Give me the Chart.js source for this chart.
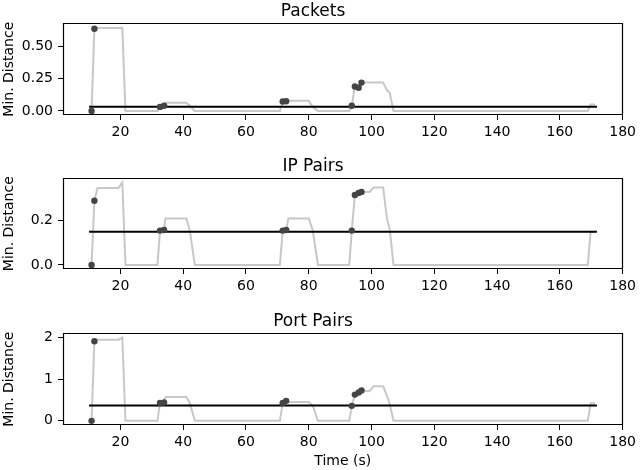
<!DOCTYPE html>
<html>
<head>
<meta charset="utf-8">
<script src="https://cdn.jsdelivr.net/npm/chart.js@4/dist/chart.umd.min.js"></script>
<style>
  html, body { margin: 0; padding: 0; background: #fff; }
  #wrap { position: relative; width: 640px; height: 470px; overflow: hidden; }
  canvas { position: absolute; left: 0; }
</style>
</head>
<body>
<div id="wrap">
  <canvas id="packets" width="640" height="150" style="top:0px;width:640px;height:150px"></canvas>
  <canvas id="ipPairs" width="640" height="149" style="top:155px;width:640px;height:149px"></canvas>
  <canvas id="portPairs" width="640" height="160" style="top:310px;width:640px;height:160px"></canvas>
</div>
<script>
// --- data ---
const TIME = [10, 10.8, 11.7, 12.7, 19.4, 20.6, 21.6,
  31.8, 32.6, 33.9, 34.3, 41.0, 42.1, 43.7,
  70.8, 71.7, 72.8, 73.5, 80.0, 81.3, 82.9,
  92.9, 93.7, 94.7, 95.9, 96.8, 99.3, 100.7, 103.7, 104.9, 105.8, 107.0,
  168.9, 169.8, 171.2];

const PACKETS = [0, 0, 0.638, 0.645, 0.645, 0.645, 0,
  0, 0.031, 0.040, 0.064, 0.064, 0.040, 0,
  0, 0.073, 0.075, 0.078, 0.078, 0.030, 0,
  0, 0.040, 0.190, 0.180, 0.220, 0.220, 0.220, 0.220, 0.160, 0.140, 0,
  0, 0.050, 0.050];

const IP_PAIRS = [0, 0, 0.29, 0.348, 0.348, 0.372, 0,
  0, 0.155, 0.158, 0.21, 0.21, 0.155, 0,
  0, 0.155, 0.158, 0.21, 0.21, 0.155, 0,
  0, 0.155, 0.316, 0.325, 0.33, 0.33, 0.35, 0.35, 0.21, 0.16, 0,
  0, 0.15, 0.15];

const PORT_PAIRS = [0, 0, 1.91, 1.95, 1.95, 2.0, 0,
  0, 0.43, 0.44, 0.57, 0.57, 0.43, 0,
  0, 0.43, 0.48, 0.45, 0.45, 0.36, 0,
  0, 0.36, 0.63, 0.68, 0.73, 0.71, 0.83, 0.83, 0.6, 0.4, 0,
  0, 0.42, 0.42];

const DOT_TIME = [10.8, 11.7, 32.6, 33.9, 71.7, 72.8, 93.7, 94.7, 95.9, 96.8];
const PACKETS_DOTS = [0, 0.638, 0.031, 0.040, 0.073, 0.075, 0.040, 0.190, 0.180, 0.220];
const IP_PAIRS_DOTS = [0, 0.29, 0.155, 0.158, 0.155, 0.158, 0.155, 0.316, 0.325, 0.33];
const PORT_PAIRS_DOTS = [0, 1.91, 0.43, 0.44, 0.43, 0.48, 0.36, 0.63, 0.68, 0.73];

const THRESH_TIME = [10, 171.8];
const PACKETS_THRESH = 0.033;
const IP_PAIRS_THRESH = 0.15;
const PORT_PAIRS_THRESH = 0.37;

const X_TICKS = [20, 40, 60, 80, 100, 120, 140, 160, 180];
const PACKETS_TICKS = [0, 0.25, 0.5];
const PACKETS_LABELS = ["0.00", "0.25", "0.50"];
const IP_PAIRS_TICKS = [0, 0.2];
const IP_PAIRS_LABELS = ["0.0", "0.2"];
const PORT_PAIRS_TICKS = [0, 1, 2];
const PORT_PAIRS_LABELS = ["0", "1", "2"];

const FONT = "'DejaVu Sans', sans-serif";

// box around the plot area (matplotlib spines)
const framePlugin = {
  id: "plotFrame",
  afterDraw(chart) {
    const ctx = chart.ctx;
    const a = chart.chartArea;
    const l = Math.round(a.left) + 0.5, t = Math.round(a.top) + 0.5;
    const r = Math.round(a.right) - 0.5, b = Math.round(a.bottom) - 0.5;
    ctx.save();
    ctx.setLineDash([]);
    ctx.globalAlpha = 1;
    ctx.strokeStyle = "#000000";
    ctx.lineWidth = 1.2;
    ctx.beginPath();
    ctx.moveTo(l, t);
    ctx.lineTo(r, t);
    ctx.lineTo(r, b);
    ctx.lineTo(l, b);
    ctx.closePath();
    ctx.stroke();
    ctx.restore();
  }
};

const pts = (xs, ys) => xs.map((x, i) => ({ x, y: ys[i] }));

function makePanel(id, title, values, dots, thresh, yMin, yMax, yTicks, yLabels, xTitle, xHeight) {
  const tickGrid = { display: true, drawOnChartArea: false, drawTicks: true, tickLength: 5, color: "#000", lineWidth: 1 };
  new Chart(document.getElementById(id), {
    type: "line",
    data: {
      datasets: [
        {
          data: pts(DOT_TIME, dots),
          showLine: false,
          pointRadius: 3.2,
          pointBackgroundColor: "#444",
          pointBorderColor: "#444",
          pointBorderWidth: 0
        },
        {
          data: pts(THRESH_TIME, [thresh, thresh]),
          borderColor: "#000",
          borderWidth: 2,
          pointRadius: 0
        },
        {
          data: pts(TIME, values),
          borderColor: "#c8c8c8",
          borderWidth: 2,
          pointRadius: 0,
          tension: 0
        }
      ]
    },
    options: {
      responsive: false,
      animation: false,
      layout: { padding: { left: 0, right: 14, top: 0, bottom: 0 } },
      plugins: {
        legend: { display: false },
        tooltip: { enabled: false },
        title: {
          display: true,
          text: title,
          color: "#000",
          font: { family: FONT, size: 17, weight: "normal" },
          padding: { top: 1, bottom: 2 }
        }
      },
      scales: {
        x: {
          type: "linear",
          min: 1.7,
          max: 180,
          afterBuildTicks: (s) => { s.ticks = X_TICKS.map((v) => ({ value: v })); },
          afterFit: (s) => { s.height = xHeight; },
          ticks: {
            color: "#000",
            font: { family: FONT, size: 14 },
            padding: 4,
            maxRotation: 0,
            autoSkip: false,
            callback: (v) => String(v)
          },
          grid: tickGrid,
          border: { display: false },
          title: {
            display: !!xTitle,
            text: xTitle || "",
            color: "#000",
            font: { family: FONT, size: 14 },
            padding: { top: 0, bottom: 0 }
          }
        },
        y: {
          min: yMin,
          max: yMax,
          afterBuildTicks: (s) => { s.ticks = yTicks.map((v) => ({ value: v })); },
          afterFit: (s) => { s.width = 63; },
          ticks: {
            color: "#000",
            font: { family: FONT, size: 14 },
            padding: 5,
            autoSkip: false,
            callback: (v, i) => yLabels[i]
          },
          grid: tickGrid,
          border: { display: false },
          title: {
            display: true,
            text: "Min. Distance",
            color: "#000",
            font: { family: FONT, size: 14 },
            padding: { top: 1, bottom: 0 }
          }
        }
      }
    },
    plugins: [framePlugin]
  });
}

makePanel("packets", "Packets", PACKETS, PACKETS_DOTS, PACKETS_THRESH,
  -0.032, 0.68, PACKETS_TICKS, PACKETS_LABELS, null, 35);
makePanel("ipPairs", "IP Pairs", IP_PAIRS, IP_PAIRS_DOTS, IP_PAIRS_THRESH,
  -0.0186, 0.391, IP_PAIRS_TICKS, IP_PAIRS_LABELS, null, 35);
makePanel("portPairs", "Port Pairs", PORT_PAIRS, PORT_PAIRS_DOTS, PORT_PAIRS_THRESH,
  -0.1, 2.1, PORT_PAIRS_TICKS, PORT_PAIRS_LABELS, "Time (s)", 45);
</script>
</body>
</html>
